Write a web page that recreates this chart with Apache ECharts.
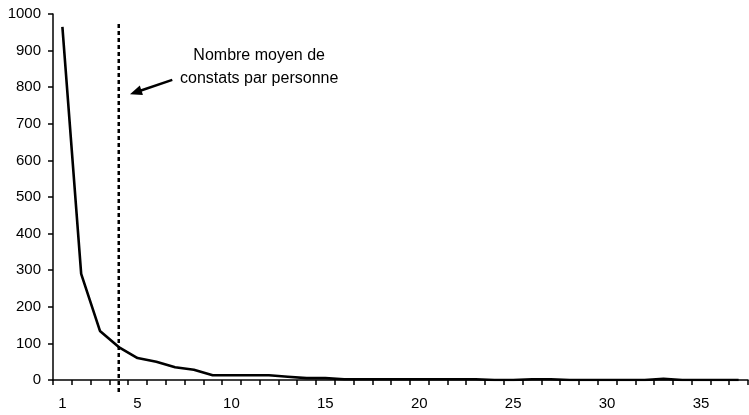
<!DOCTYPE html>
<html><head><meta charset="utf-8">
<script src="https://cdn.jsdelivr.net/npm/echarts@6/dist/echarts.min.js"></script>
<style>html,body{margin:0;padding:0;background:#fff}#c{width:749px;height:415px}</style>
</head><body><div id="c"></div>
<script>
const categories = Array.from({length:37},(_, i)=>String(i+1));
const counts = [965,290,134,90,60,50,35,28,13,13,13,13,9,5,5,2,2,2,2,2,2,2,2,0,0,2,2,0,0,0,0,0,3,0,0,0,0];
const yTicks = [0,100,200,300,400,500,600,700,800,900,1000];
const meanIndex = 3;            // category "4"
const meanLineTop = 973, meanLineBottom = -36;
const arrowFrom = [6.85, 820];  // [x in category units, y value]
const arrowTo = [4.6, 781];
const annotationText = 'Nombre moyen de\nconstats par personne';

function toPx(api, xv, yv){
  const base = api.coord([0, yv]);
  const band = api.size([1, 0])[0];
  return [base[0] + (xv - 1) * band, base[1]];
}

const chart = echarts.init(document.getElementById('c'));
chart.setOption({
  animation:false,
  grid:{left:53,right:1,top:14,bottom:35},
  xAxis:{
    type:'category', data:categories, boundaryGap:true,
    axisLine:{show:true,onZero:false,lineStyle:{color:'#000',width:1.5}},
    axisTick:{show:true,interval:0,length:5,lineStyle:{color:'#000',width:1.5}},
    axisLabel:{interval:(i)=> i===0 || (i+1)%5===0, color:'#000', fontSize:15, fontFamily:'Liberation Sans', margin:16}
  },
  yAxis:{
    type:'value', min:yTicks[0], max:yTicks[yTicks.length-1], interval:100,
    axisLine:{show:true,onZero:false,lineStyle:{color:'#000',width:1.5}},
    axisTick:{show:true,length:5,lineStyle:{color:'#000',width:1.5}},
    splitLine:{show:false},
    axisLabel:{color:'#000',fontSize:15,fontFamily:'Liberation Sans',margin:12,formatter:(v)=>String(v)}
  },
  series:[{
    type:'line', data:counts, symbol:'none',
    lineStyle:{color:'#000',width:2.6}
  },{
    type:'custom', data:[[0]], clip:false, silent:true, z:3,
    renderItem:function(params, api){
      const top = api.coord([meanIndex, meanLineTop]);
      const bot = api.coord([meanIndex, meanLineBottom]);
      const a = toPx(api, arrowFrom[0], arrowFrom[1]);
      const b = toPx(api, arrowTo[0], arrowTo[1]);
      const dx = b[0]-a[0], dy = b[1]-a[1], L = Math.hypot(dx,dy);
      const ux = dx/L, uy = dy/L, hl = 12, hw = 5;
      const base = [b[0]-ux*hl, b[1]-uy*hl];
      return {type:'group', children:[
        {type:'line', shape:{x1:top[0],y1:top[1],x2:bot[0],y2:bot[1]},
         style:{stroke:'#000',lineWidth:2.5,lineDash:[4,3]}},
        {type:'line', shape:{x1:a[0],y1:a[1],x2:base[0]+ux*2,y2:base[1]+uy*2},
         style:{stroke:'#000',lineWidth:2.5}},
        {type:'polygon', shape:{points:[b,[base[0]-uy*hw,base[1]+ux*hw],[base[0]+uy*hw,base[1]-ux*hw]]},
         style:{fill:'#000'}}
      ]};
    }
  }],
  graphic:[{
    type:'text', left:180, top:44,
    style:{text:annotationText, fill:'#000', font:'16px "Liberation Sans"', textAlign:'center', lineHeight:23, align:'center'}
  }]
});
</script></body></html>
